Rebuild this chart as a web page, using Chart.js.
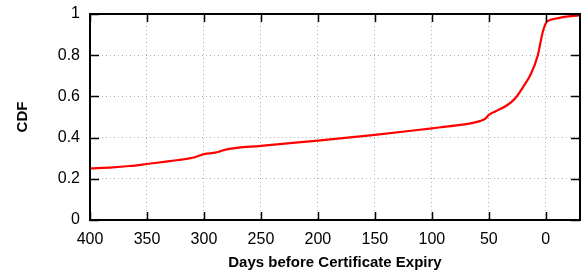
<!DOCTYPE html>
<html>
<head>
<meta charset="utf-8">
<script src="https://cdn.jsdelivr.net/npm/chart.js@4"></script>
<style>
  html, body { margin: 0; padding: 0; background: #fff; }
  #wrap { width: 581px; height: 274px; }
</style>
</head>
<body>
<div id="wrap"><canvas id="cdfChart"></canvas></div>
<script>
// days before expiry -> cumulative fraction of certificates
const days = [400, 380, 365, 350, 330, 310, 300, 290, 286, 280, 250, 200, 150, 100, 80, 65, 58, 53, 50, 44, 34, 27, 20, 13, 7, 3, 0, -2.5, -8, -14, -22, -30];
const cdf = [0.251, 0.255, 0.262, 0.272, 0.286, 0.302, 0.320, 0.327, 0.333, 0.343, 0.360, 0.385, 0.413, 0.445, 0.458, 0.470, 0.480, 0.492, 0.510, 0.528, 0.557, 0.590, 0.645, 0.710, 0.800, 0.905, 0.955, 0.968, 0.977, 0.984, 0.990, 0.993];
const xTicks = [400, 350, 300, 250, 200, 150, 100, 50, 0];
const yTicks = [0, 0.2, 0.4, 0.6, 0.8, 1];

const FONT = 'Liberation Sans, Arial, Helvetica, sans-serif';

// gnuplot style frame with inward ticks on all four sides
const framePlugin = {
    id: 'frame',
    afterDatasetsDraw(chart) {
        const ctx = chart.ctx;
        const a = chart.chartArea;
        const xs = chart.scales.x;
        const ys = chart.scales.y;
        ctx.save();
        ctx.strokeStyle = '#000';
        ctx.lineWidth = 1.5;
        ctx.beginPath();
        xTicks.forEach((v) => {
            const px = Math.round(xs.getPixelForValue(v)) + 0.5;
            ctx.moveTo(px, a.bottom); ctx.lineTo(px, a.bottom - 8);
            ctx.moveTo(px, a.top); ctx.lineTo(px, a.top + 8);
        });
        yTicks.forEach((v) => {
            const py = Math.round(ys.getPixelForValue(v)) + 0.5;
            ctx.moveTo(a.left, py); ctx.lineTo(a.left + 9, py);
            ctx.moveTo(a.right, py); ctx.lineTo(a.right - 9, py);
        });
        ctx.stroke();
        ctx.lineWidth = 2;
        ctx.strokeRect(a.left, a.top, a.right - a.left, a.bottom - a.top);
        ctx.restore();
    }
};

const points = days.map((d, i) => ({ x: d, y: cdf[i] }));

new Chart(document.getElementById('cdfChart'), {
    type: 'line',
    data: {
        datasets: [{
            label: 'CDF',
            data: points,
            borderColor: 'rgb(255, 0, 0)',
            borderWidth: 2.2,
            pointRadius: 0,
            fill: false,
            cubicInterpolationMode: 'monotone'
        }]
    },
    options: {
        responsive: true,
        maintainAspectRatio: false,
        animation: false,
        layout: { padding: { top: 14, right: 1, left: 0, bottom: 0 } },
        plugins: {
            legend: { display: false },
            tooltip: { enabled: false }
        },
        scales: {
            x: {
                type: 'linear',
                reverse: true,
                min: -30,
                max: 400,
                afterBuildTicks: (s) => { s.ticks = xTicks.map(v => ({ value: v })); },
                afterFit: (s) => { s.height = 54; s.paddingRight = 0; },
                grid: { color: '#b0b0b0', drawTicks: false, lineWidth: 1 },
                border: { display: false, dash: [1, 3] },
                ticks: {
                    color: '#000',
                    padding: 10,
                    maxRotation: 0,
                    font: { family: FONT, size: 16 },
                    callback: (v) => String(v)
                },
                title: {
                    display: true,
                    text: 'Days before Certificate Expiry',
                    color: '#000',
                    font: { family: FONT, size: 15, weight: 'bold' },
                    padding: { top: 2, bottom: 2 }
                }
            },
            y: {
                min: 0,
                max: 1,
                afterBuildTicks: (s) => { s.ticks = yTicks.map(v => ({ value: v })); },
                afterFit: (s) => { s.width = 90; s.paddingTop = 0; s.paddingBottom = 0; },
                grid: { color: '#b0b0b0', drawTicks: false, lineWidth: 1 },
                border: { display: false, dash: [1, 3] },
                ticks: {
                    color: '#000',
                    padding: 10,
                    font: { family: FONT, size: 16 },
                    callback: (v) => String(v)
                },
                title: {
                    display: true,
                    text: 'CDF',
                    color: '#000',
                    font: { family: FONT, size: 15, weight: 'bold' },
                    padding: { top: 14, bottom: 0 }
                }
            }
        }
    },
    plugins: [framePlugin]
});
</script>
</body>
</html>
